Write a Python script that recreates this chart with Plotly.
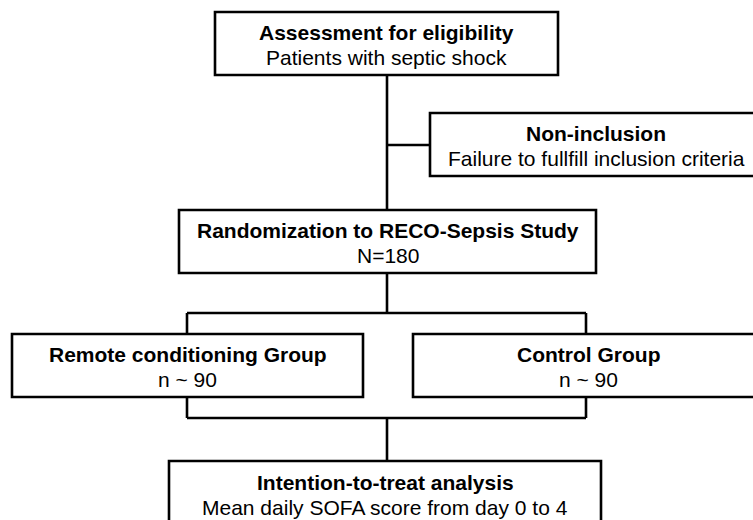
import plotly.graph_objects as go

# ---- content ----
box_titles = [
    "Assessment for eligibility",
    "Non-inclusion",
    "Randomization to RECO-Sepsis Study",
    "Remote conditioning Group",
    "Control Group",
    "Intention-to-treat analysis",
]
box_subtitles = [
    "Patients with septic shock",
    "Failure to fullfill inclusion criteria",
    "N=180",
    "n ~ 90",
    "n ~ 90",
    "Mean daily SOFA score from day 0 to 4",
]

# ---- layout geometry (page pixel space) ----
box_x0 = [215, 430, 179, 12, 413, 169]
box_x1 = [558, 790, 596, 363, 790, 601]
box_y0 = [12, 113, 210, 334, 334, 461]
box_y1 = [75, 176, 273, 397, 397, 560]
text_cx = [386.5, 596, 387.5, 187.5, 588, 385]
line1_y = [32, 133, 230, 354, 354, 482]
line2_y = [57, 158, 255, 379, 379, 507]

connectors = [
    # (x0, y0, x1, y1)
    (387, 75, 387, 210),
    (387, 145, 430, 145),
    (387, 273, 387, 313),
    (187, 313, 586, 313),
    (187, 313, 187, 334),
    (586, 313, 586, 334),
    (187, 397, 187, 418),
    (586, 397, 586, 418),
    (187, 418, 586, 418),
    (387, 418, 387, 461),
]

W, H = 753, 520
LW = 2.6
FONT = "Liberation Sans, Arial, sans-serif"

fig = go.Figure()
fig.add_trace(go.Scatter(x=[0, W], y=[0, H], mode="markers",
                         marker=dict(opacity=0), hoverinfo="skip", showlegend=False))

shapes = []
for (x0, y0, x1, y1) in connectors:
    shapes.append(dict(type="line", x0=x0, y0=y0, x1=x1, y1=y1,
                       line=dict(color="black", width=LW), layer="below"))
for i in range(len(box_titles)):
    shapes.append(dict(type="rect", x0=box_x0[i], x1=box_x1[i], y0=box_y0[i], y1=box_y1[i],
                       line=dict(color="black", width=LW), fillcolor="white", layer="above"))

annotations = []
for i in range(len(box_titles)):
    annotations.append(dict(x=text_cx[i], y=line1_y[i], text="<b>" + box_titles[i] + "</b>",
                            showarrow=False, xanchor="center", yanchor="middle",
                            font=dict(family=FONT, size=21, color="black")))
    annotations.append(dict(x=text_cx[i], y=line2_y[i], text=box_subtitles[i],
                            showarrow=False, xanchor="center", yanchor="middle",
                            font=dict(family=FONT, size=21, color="black")))

fig.update_layout(
    width=W, height=H,
    margin=dict(l=0, r=0, t=0, b=0),
    paper_bgcolor="white", plot_bgcolor="white",
    xaxis=dict(range=[0, W], visible=False, fixedrange=True),
    yaxis=dict(range=[H, 0], visible=False, fixedrange=True),
    shapes=shapes,
    annotations=annotations,
    showlegend=False,
)

fig.write_html(
    "out.html",
    config={"displayModeBar": False},
    post_script="document.body.style.margin='0';document.body.style.overflow='hidden';",
)
